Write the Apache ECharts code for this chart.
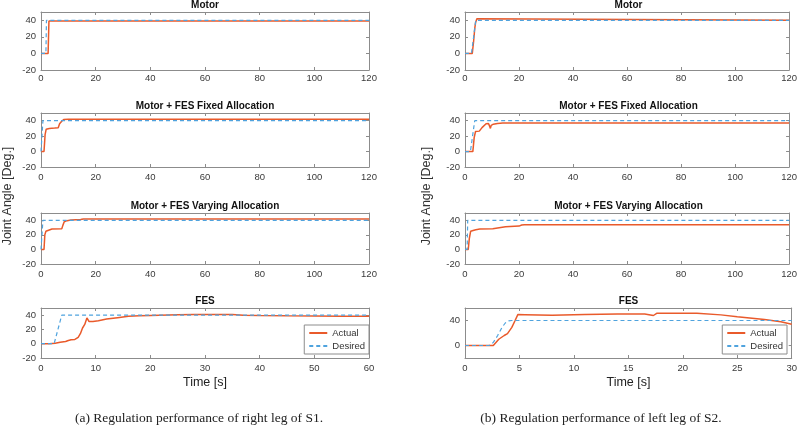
<!DOCTYPE html>
<html>
<head>
<meta charset="utf-8">
<script src="https://cdn.jsdelivr.net/npm/echarts@6/dist/echarts.min.js"></script>
<style>html,body{margin:0;padding:0;background:#fff}#c{width:800px;height:427px}</style>
</head>
<body>
<div id="c"></div>
<script>
// ---------- data ----------
const rowTitles = ['Motor', 'Motor + FES Fixed Allocation', 'Motor + FES Varying Allocation', 'FES'];
const seriesNames = ['Actual', 'Desired'];
const captionA = '(a) Regulation performance of right leg of S1.';
const captionB = '(b) Regulation performance of left leg of S2.';
const xAxisTitle = 'Time [s]';
const yAxisTitle = 'Joint Angle [Deg.]';

const longTicksX = [0, 20, 40, 60, 80, 100, 120];
const fesTicksXA = [0, 10, 20, 30, 40, 50, 60];
const fesTicksXB = [0, 5, 10, 15, 20, 25, 30];
const angleTicksY = [-20, 0, 20, 40];
const fesTicksYB = [0, 40];

// S1 (right leg)
const s1MotorActual = [[0,0],[2.6,0],[2.9,39],[120,39]];
const s1MotorDesired = [[0,0],[1.8,0],[2.0,40],[120,40]];
const s1FixedActual = [[0,0],[1.1,0],[1.5,22],[1.9,29],[3,30],[5,30.5],[6.3,31],[6.8,36],[7.5,39],[8.3,41.5],[10,41.8],[120,41.8]];
const s1FixedDesired = [[0,0],[0.4,0],[0.7,40],[120,40]];
const s1VaryActual = [[0,0],[1.1,0],[1.4,20],[1.8,25],[2.5,27],[4,28],[7.6,28.5],[8,33],[8.5,38],[9.5,39.5],[11,40.5],[14.5,41],[15.5,41.8],[120,41.8]];
const s1VaryDesired = [[0,0],[0.4,0],[0.7,40],[120,40]];
const s1FesActual = [[0,0],[1.5,0],[2.6,0.5],[3.5,2],[4.5,3],[5,4.5],[5.5,5.5],[6.2,6],[6.8,9],[7.2,14],[7.6,22],[8,27],[8.4,36],[8.8,31],[9.5,31],[10.5,32],[12,34.5],[14,36.5],[16,38.5],[18,39],[20,39.5],[25,40.5],[28,41],[35,41],[37,40],[40,39.5],[45,39],[50,38.8],[55,38.5],[60,38.5]];
const s1FesDesired = [[0,0],[2.4,0],[3.8,40],[60,40]];

// S2 (left leg)
const s2MotorActual = [[0,0],[2.7,0],[3.2,15],[3.6,30],[3.9,37],[4.2,38],[4.4,42],[4.6,43],[4.9,40],[120,40]];
const s2MotorDesired = [[0,0],[2.4,0],[4.0,40],[120,40]];
const s2FixedActual = [[0,0],[2.9,0],[3.4,18],[3.9,26],[5.3,26.5],[5.8,28],[6.3,31],[7,33],[7.8,36],[8.7,36.5],[9.1,33],[9.4,30],[9.7,34],[10.5,35.5],[12,36.5],[14,37],[120,37]];
const s2FixedDesired = [[0,0],[2.0,0],[3.6,40],[120,40]];
const s2VaryActual = [[0,0],[1.2,0],[1.6,15],[2.1,25],[3,26],[4,27],[5.5,28],[10.3,28.5],[10.8,30.5],[15,31],[20,32],[21,33.5],[22,34],[120,34]];
const s2VaryDesired = [[0,0],[0.8,0],[1.0,40],[120,40]];
const s2FesActual = [[0,0],[2.6,0],[3.1,10],[3.6,16],[3.9,19],[4.3,29],[4.6,40],[4.85,49.5],[5.5,49.3],[8,48.5],[11,49.5],[14,50.5],[16.5,50.5],[17.3,48],[17.6,51.5],[21.3,51.5],[23.5,49],[25,46],[27.5,41.5],[29,38],[30,34]];
const s2FesDesired = [[0,0],[2.2,0],[2.6,5],[3.0,16],[3.4,29],[3.7,36],[4.0,39.5],[4.3,40],[30,40]];

// ---------- layout ----------
const FONT = '"Liberation Sans", Arial, Helvetica, sans-serif';
const AXIS_COLOR = '#8c8c8c';
const LABEL_COLOR = '#3a3a3a';
const ORANGE = '#E95A2B';
const BLUE = '#4FA3DE';

const cols = [{ left: 41, width: 328 }, { left: 465, width: 327 }];
const rows = [{ top: 12, height: 58, margin: 3 }, { top: 113, height: 54, margin: 5 }, { top: 213, height: 51, margin: 5 }, { top: 308, height: 50, margin: 5 }];

const panels = [
  { c: 0, r: 0, xmax: 120, xt: longTicksX, ymin: -20, ymax: 50, yt: angleTicksY, a: s1MotorActual, d: s1MotorDesired },
  { c: 0, r: 1, xmax: 120, xt: longTicksX, ymin: -20, ymax: 50, yt: angleTicksY, a: s1FixedActual, d: s1FixedDesired },
  { c: 0, r: 2, xmax: 120, xt: longTicksX, ymin: -20, ymax: 50, yt: angleTicksY, a: s1VaryActual, d: s1VaryDesired },
  { c: 0, r: 3, xmax: 60, xt: fesTicksXA, ymin: -20, ymax: 50, yt: angleTicksY, a: s1FesActual, d: s1FesDesired },
  { c: 1, r: 0, xmax: 120, xt: longTicksX, ymin: -20, ymax: 50, yt: angleTicksY, a: s2MotorActual, d: s2MotorDesired },
  { c: 1, r: 1, xmax: 120, xt: longTicksX, ymin: -20, ymax: 50, yt: angleTicksY, a: s2FixedActual, d: s2FixedDesired },
  { c: 1, r: 2, xmax: 120, xt: longTicksX, ymin: -20, ymax: 50, yt: angleTicksY, a: s2VaryActual, d: s2VaryDesired },
  { c: 1, r: 3, xmax: 30, xt: fesTicksXB, ymin: -20, ymax: 60, yt: fesTicksYB, a: s2FesActual, d: s2FesDesired }
];

const grid = [], xAxis = [], yAxis = [], series = [], graphic = [];

panels.forEach((p) => {
  const col = cols[p.c], row = rows[p.r];
  grid.push({ left: col.left, top: row.top, width: col.width, height: row.height, show: false });
});

function xAx(p, i, pos) {
  const row = rows[p.r];
  return {
    type: 'value', gridIndex: i, position: pos, min: 0, max: p.xmax,
    axisLine: { show: true, onZero: false, lineStyle: { color: AXIS_COLOR, width: 1 } },
    axisTick: { show: true, inside: true, length: 3, lineStyle: { color: AXIS_COLOR }, customValues: p.xt },
    axisLabel: { show: pos === 'bottom', customValues: p.xt, fontSize: 9.5, fontFamily: FONT, color: LABEL_COLOR, margin: row.margin },
    splitLine: { show: false }
  };
}
function yAx(p, i, pos) {
  return {
    type: 'value', gridIndex: i, position: pos, min: p.ymin, max: p.ymax,
    axisLine: { show: true, onZero: false, lineStyle: { color: AXIS_COLOR, width: 1 } },
    axisTick: { show: true, inside: true, length: 3, lineStyle: { color: AXIS_COLOR }, customValues: p.yt },
    axisLabel: { show: pos === 'left', customValues: p.yt, fontSize: 9.5, fontFamily: FONT, color: LABEL_COLOR, margin: 5 },
    splitLine: { show: false }
  };
}
panels.forEach((p, i) => { xAxis.push(xAx(p, i, 'bottom')); yAxis.push(yAx(p, i, 'left')); });
panels.forEach((p, i) => { xAxis.push(xAx(p, i, 'top')); yAxis.push(yAx(p, i, 'right')); });

panels.forEach((p, i) => {
  series.push({ name: seriesNames[0], type: 'line', xAxisIndex: i, yAxisIndex: i, data: p.a, symbol: 'none', showSymbol: false,
    lineStyle: { color: ORANGE, width: 1.5 }, itemStyle: { color: ORANGE }, z: 2, silent: true });
  series.push({ name: seriesNames[1], type: 'line', xAxisIndex: i, yAxisIndex: i, data: p.d, symbol: 'none', showSymbol: false,
    lineStyle: { color: BLUE, width: 1.2, type: [4, 3] }, itemStyle: { color: BLUE }, z: 3, silent: true });
});

// titles
rows.forEach((row, r) => {
  cols.forEach((col) => {
    graphic.push({ type: 'text', x: col.left + col.width / 2, y: row.top - 7,
      style: { text: rowTitles[r], font: 'bold 10px ' + FONT, fill: '#111', textAlign: 'center', textVerticalAlign: 'middle' } });
  });
});
// x titles
cols.forEach((col) => {
  graphic.push({ type: 'text', x: col.left + col.width / 2, y: 383,
    style: { text: xAxisTitle, font: '12.5px ' + FONT, fill: '#222', textAlign: 'center', textVerticalAlign: 'middle' } });
});
// y titles
[8, 427].forEach((xx) => {
  graphic.push({ type: 'text', x: xx, y: 196, rotation: Math.PI / 2,
    style: { text: yAxisTitle, font: '12.5px ' + FONT, fill: '#333', textAlign: 'center', textVerticalAlign: 'middle' } });
});
// captions
const CAP_FONT = '13.5px "Liberation Serif", "Times New Roman", serif';
graphic.push({ type: 'text', x: 199, y: 418, style: { text: captionA, font: CAP_FONT, fill: '#222', textAlign: 'center', textVerticalAlign: 'middle' } });
graphic.push({ type: 'text', x: 601, y: 418, style: { text: captionB, font: CAP_FONT, fill: '#222', textAlign: 'center', textVerticalAlign: 'middle' } });

const legendBase = {
  orient: 'vertical', top: 325, data: seriesNames, itemWidth: 18, itemHeight: 8, itemGap: 3,
  padding: [3, 4, 3, 4], borderColor: '#8c8c8c', borderWidth: 1, backgroundColor: '#fff', borderRadius: 0,
  itemStyle: { opacity: 0 },
  textStyle: { fontSize: 9.5, fontFamily: FONT, color: '#333' }, selectedMode: false
};
const legend = [Object.assign({}, legendBase, { right: 431 }), Object.assign({}, legendBase, { right: 13 })];

const chart = echarts.init(document.getElementById('c'), null, { renderer: 'canvas' });
chart.setOption({ animation: false, backgroundColor: '#fff', grid, xAxis, yAxis, series, legend, graphic });
</script>
</body>
</html>
